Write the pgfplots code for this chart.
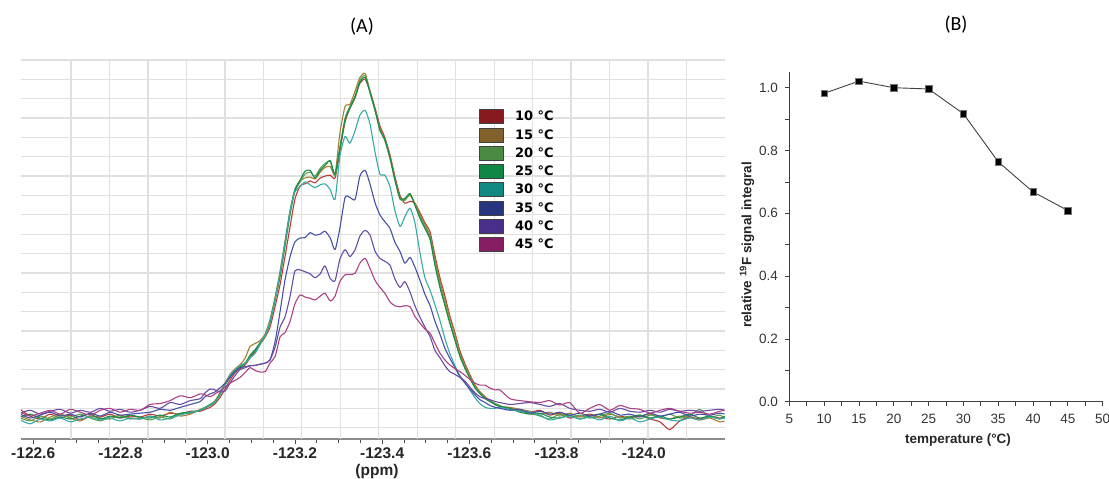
\documentclass[border=0pt]{standalone}
\usepackage{fontspec}
\setmainfont{Liberation Sans}
\newfontfamily\carlito{Carlito}
\newfontfamily\dejavu{DejaVu Sans}
\usepackage{pgfplots}
\usepackage{pgfplotstable}
\pgfplotsset{compat=1.18}

\definecolor{f10}{RGB}{135,26,31}
\definecolor{f15}{RGB}{129,98,42}
\definecolor{f20}{RGB}{74,138,66}
\definecolor{f25}{RGB}{17,135,69}
\definecolor{f30}{RGB}{17,136,130}
\definecolor{f35}{RGB}{38,53,126}
\definecolor{f40}{RGB}{72,47,138}
\definecolor{f45}{RGB}{135,30,99}
\definecolor{l10}{RGB}{185,60,60}
\definecolor{l15}{RGB}{165,125,55}
\definecolor{l20}{RGB}{90,160,80}
\definecolor{l25}{RGB}{25,140,70}
\definecolor{l30}{RGB}{55,170,165}
\definecolor{l35}{RGB}{70,80,165}
\definecolor{l40}{RGB}{105,75,165}
\definecolor{l45}{RGB}{170,65,130}
\definecolor{gridc}{RGB}{224,224,224}

\pgfplotsset{legbox/.style={legend image code/.code={\filldraw[fill=#1,draw=black!75,line width=0.8pt] (0pt,-7pt) rectangle (24pt,7pt);}}}

\pgfplotstableread{
ppm c10 c15 c20 c25 c30 c35 c40 c45
-122.570 0.95 0.6 0.5 0.55 0.4 0.7 0.75 0.8
-122.593 0.6 0.4 0.35 0.7 0.2 0.5 0.9 0.6
-122.616 0.45 0.3 0.6 0.5 0.45 0.65 0.7 0.75
-122.639 0.7 0.55 0.45 0.4 0.35 0.8 0.85 0.9
-122.662 0.5 0.7 0.65 0.55 0.5 0.6 0.95 0.7
-122.685 0.65 0.5 0.55 0.45 0.3 0.7 0.75 0.95
-122.708 0.4 0.35 0.7 0.6 0.45 0.55 0.9 0.8
-122.731 0.6 0.6 0.5 0.7 0.55 0.75 0.8 0.65
-122.754 0.55 0.5 0.35 0.45 0.4 0.6 1.0 0.9
-122.776 0.7 0.45 0.55 0.6 0.5 0.8 0.85 1.0
-122.799 0.5 0.65 0.6 0.5 0.35 0.65 0.95 0.8
-122.822 0.6 0.5 0.45 0.65 0.5 0.7 0.8 0.95
-122.845 0.55 0.45 0.5 0.55 0.45 0.75 0.9 0.9
-122.868 0.7 0.6 0.4 0.5 0.6 0.8 1.1 1.2
-122.891 0.6 0.5 0.55 0.65 0.4 0.95 1.0 1.25
-122.914 0.75 0.8 0.45 0.55 0.5 0.9 1.3 1.4
-122.937 0.7 0.6 0.7 0.75 0.65 1.05 1.2 1.65
-122.960 0.85 0.7 0.75 0.8 0.8 1.2 1.4 1.55
-122.983 0.85 0.95 0.9 0.9 0.9 1.35 1.5 1.75
-122.994 0.95 1.05 1.0 1.05 1.05 1.6 1.8 1.7
-123.006 1.05 1.2 1.15 1.2 1.2 1.75 2.0 1.6
-123.017 1.25 1.4 1.3 1.35 1.35 1.85 1.95 1.75
-123.028 1.55 1.8 1.7 1.75 1.7 2.05 1.85 1.9
-123.040 2.0 2.3 2.2 2.25 2.25 2.3 1.9 2.1
-123.051 2.45 2.75 2.6 2.65 2.7 2.6 2.3 2.3
-123.063 2.85 3.05 2.95 2.95 3.0 2.9 2.7 2.45
-123.074 3.05 3.25 3.1 3.15 3.2 3.1 3.0 2.6
-123.086 3.25 3.6 3.3 3.35 3.35 3.15 3.1 2.85
-123.097 3.6 4.2 3.75 3.7 3.6 3.2 3.2 3.1
-123.109 3.95 4.35 4.05 4.0 3.85 3.22 3.22 2.95
-123.120 4.3 4.5 4.4 4.35 4.3 3.28 3.28 2.88
-123.132 4.7 4.85 4.75 4.8 4.8 3.34 3.34 2.9
-123.143 5.2 5.6 5.4 5.5 5.5 3.5 3.5 3.34
-123.155 6.3 6.8 6.6 6.7 6.7 4.5 4.2 3.7
-123.166 7.4 8.1 7.8 7.9 8.0 6.0 5.2 4.7
-123.177 8.8 9.6 9.3 9.5 9.5 7.6 5.7 4.9
-123.189 10.4 11.2 11.0 11.2 11.2 8.84 6.8 5.5
-123.200 11.8 12.3 12.2 12.3 12.2 9.6 8.1 6.4
-123.212 12.5 12.75 12.7 12.8 12.45 9.8 8.15 6.86
-123.223 12.6 12.9 13.1 13.25 12.7 9.82 8.06 6.75
-123.235 12.75 12.95 13.2 13.3 12.55 10.08 7.95 6.69
-123.246 12.65 12.85 13.0 12.9 12.4 9.95 7.75 6.6
-123.258 12.9 13.2 13.4 13.3 12.55 10.0 7.95 6.8
-123.269 13.0 13.45 13.65 13.55 12.6 10.15 8.36 6.95
-123.281 13.05 13.5 13.75 13.8 12.3 9.8 7.7 6.55
-123.292 12.9 13.1 13.0 13.1 11.8 9.2 7.6 6.8
-123.303 14.3 15.2 14.5 14.4 14.0 10.3 8.7 7.55
-123.315 15.8 16.6 16.0 15.9 15.05 11.9 9.2 7.9
-123.326 16.5 16.7 16.6 16.5 14.7 11.9 8.84 7.92
-123.338 17.05 17.4 17.15 17.1 15.35 11.8 9.2 7.98
-123.349 17.8 18.1 17.95 17.85 16.15 13.0 9.9 8.5
-123.361 18.0 18.3 18.2 18.1 16.4 13.3 10.2 8.75
-123.372 17.4 17.4 17.3 17.35 15.7 12.6 9.96 8.24
-123.384 16.5 16.4 16.35 16.4 14.2 11.6 9.1 7.6
-123.395 15.6 15.5 15.4 15.35 13.1 11.0 8.75 7.25
-123.406 15.0 14.9 14.85 14.9 13.06 10.65 8.6 6.95
-123.418 14.1 14.0 13.9 13.95 12.45 10.3 8.4 6.5
-123.429 13.0 12.9 12.8 12.85 11.25 9.6 7.7 6.3
-123.441 12.0 11.9 11.8 11.85 10.4 9.1 7.25 6.25
-123.452 11.6 11.8 11.75 11.85 10.9 8.5 7.55 6.3
-123.464 11.7 12.0 12.05 12.1 11.34 8.8 7.0 6.25
-123.475 11.6 11.6 11.55 11.5 10.6 8.3 6.3 5.75
-123.487 11.1 11.0 10.9 10.8 9.0 7.6 5.7 5.4
-123.498 10.6 10.5 10.4 10.3 7.75 6.9 5.2 5.1
-123.510 10.1 9.9 9.8 9.7 7.1 6.3 4.7 4.88
-123.521 8.9 8.7 8.5 8.4 6.35 5.5 4.0 4.36
-123.533 7.7 7.5 7.3 7.2 5.5 4.8 3.6 3.84
-123.544 6.8 6.6 6.4 6.3 4.6 4.1 3.2 3.5
-123.555 5.8 5.7 5.5 5.4 3.84 3.6 2.9 3.25
-123.567 4.9 4.8 4.6 4.5 3.2 3.1 2.75 3.05
-123.578 4.0 3.9 3.75 3.7 2.7 2.65 2.6 2.9
-123.590 3.3 3.2 3.1 3.05 2.35 2.3 2.4 2.7
-123.601 2.75 2.7 2.6 2.55 1.95 2.0 2.1 2.5
-123.613 2.2 2.2 2.1 2.05 1.55 1.7 1.8 2.3
-123.624 1.85 1.85 1.8 1.75 1.25 1.45 1.6 2.2
-123.636 1.6 1.6 1.55 1.5 1.05 1.3 1.5 2.2
-123.647 1.4 1.4 1.4 1.35 1.0 1.15 1.45 2.05
-123.659 1.2 1.2 1.25 1.2 1.0 1.05 1.35 1.95
-123.670 1.1 1.1 1.15 1.1 1.05 1.0 1.3 1.95
-123.693 1.0 1.05 0.95 1.0 0.95 0.9 1.2 1.5
-123.716 0.9 0.95 0.85 0.8 0.85 0.95 1.25 1.4
-123.739 0.8 0.85 0.75 0.7 0.8 0.75 1.3 1.34
-123.762 0.9 0.7 0.6 0.75 0.65 0.85 1.2 1.3
-123.784 0.65 0.8 0.45 0.55 0.4 0.7 1.1 1.4
-123.807 0.75 0.6 0.7 0.5 0.5 0.8 1.25 1.17
-123.830 0.5 0.75 0.55 0.65 0.6 0.65 1.0 1.3
-123.853 0.6 0.55 0.65 0.45 0.45 0.75 0.9 0.74
-123.876 0.7 0.65 0.5 0.6 0.55 0.6 0.85 1.0
-123.899 0.55 0.5 0.6 0.7 0.4 0.7 0.95 1.2
-123.922 0.45 0.7 0.75 0.5 0.6 0.85 0.8 0.9
-123.945 0.6 0.55 0.5 0.4 0.35 0.65 1.0 1.15
-123.968 0.5 0.45 0.6 0.55 0.5 0.7 0.85 1.0
-123.991 0.65 0.6 0.45 0.65 0.3 0.55 0.8 0.95
-124.014 0.45 0.7 0.65 0.5 0.45 0.75 0.9 0.75
-124.037 0.3 0.5 0.55 0.6 0.55 0.6 0.8 0.9
-124.059 -0.1 0.45 0.7 0.45 0.4 0.7 0.95 1.0
-124.082 0.35 0.6 0.5 0.55 0.35 0.8 0.85 0.85
-124.105 0.55 0.55 0.6 0.7 0.5 0.6 0.9 0.75
-124.128 0.45 0.4 0.95 0.5 0.4 0.7 0.85 0.8
-124.151 0.6 0.5 0.55 0.6 0.55 0.65 0.9 0.7
-124.174 0.5 0.3 0.65 0.45 0.45 0.75 0.95 0.85
-124.185 0.55 0.35 0.5 0.6 0.5 0.7 0.9 0.9
}\spec

\pgfplotstableread{
t r
10 0.982
15 1.021
20 1.000
25 0.996
30 0.917
35 0.764
40 0.668
45 0.609
}\integ

\begin{document}
\begin{tikzpicture}[x=1pt,y=1pt]
\path[use as bounding box] (0,0) rectangle (1109,479);
\node[font=\carlito\fontsize{20}{24}\selectfont] at (362,452) {(A)};
\node[font=\carlito\fontsize{20}{24}\selectfont] at (956,454) {(B)};

\begin{axis}[
  at={(21pt,40pt)}, anchor=south west, scale only axis,
  width=704pt, height=379pt,
  x dir=reverse, xmin=-124.186, xmax=-122.572, ymin=-0.584, ymax=19,
  axis x line*=bottom, axis y line=none,
  x axis line style={-, draw=black!45, line width=1.3pt},
  xtick={-122.6,-122.8,-123.0,-123.2,-123.4,-123.6,-123.8,-124.0},
  xticklabels={-122.6,-122.8,-123.0,-123.2,-123.4,-123.6,-123.8,-124.0},
  minor x tick num=3,
  tick align=outside,
  major tick length=5pt, minor tick length=4pt,
  xtick style={draw=black!70, line width=0.8pt},
  xticklabel style={font=\bfseries\fontsize{15.5}{18}\selectfont, text=black!85},
  ytick=\empty,
  extra x ticks={-122.6866,-122.7748,-122.8630,-122.9512,-123.0394,-123.1276,-123.2158,-123.3040,-123.3922,-123.4804,-123.5686,-123.6568,-123.7450,-123.8332,-123.9214,-124.0096,-124.0978},
  extra x tick labels={},
  extra x tick style={grid=major, major tick length=0pt, tick style={draw=none}},
  grid style={draw=gridc, line width=1.3pt},
  no marks,
  every axis plot/.append style={line width=1.1pt, smooth, tension=0.4, line join=round},
  legend style={at={(0.6506,0.8707)}, anchor=north west, draw=none, fill=none,
    inner sep=0pt, row sep=3.5pt,
    font=\dejavu\bfseries\fontsize{13}{15}\selectfont,
    nodes={inner sep=0pt, anchor=west},
    /tikz/every odd column/.append style={column sep=11pt}},
  legend cell align=left,
]
\pgfplotsinvokeforeach{0,1,...,19}{\draw[draw=gridc, line width=1.3pt, line cap=butt] (rel axis cs:0,0) ++(0pt,0pt) (axis cs:-122.5725,#1) -- (axis cs:-124.1855,#1);}
\addplot[l10, legbox=f10] table[x=ppm, y=c10] {\spec};
\addlegendentry{10 °C}
\addplot[l15, legbox=f15] table[x=ppm, y=c15] {\spec};
\addlegendentry{15 °C}
\addplot[l20, legbox=f20] table[x=ppm, y=c20] {\spec};
\addlegendentry{20 °C}
\addplot[l25, legbox=f25] table[x=ppm, y=c25] {\spec};
\addlegendentry{25 °C}
\addplot[l30, legbox=f30] table[x=ppm, y=c30] {\spec};
\addlegendentry{30 °C}
\addplot[l35, legbox=f35] table[x=ppm, y=c35] {\spec};
\addlegendentry{35 °C}
\addplot[l40, legbox=f40] table[x=ppm, y=c40] {\spec};
\addlegendentry{40 °C}
\addplot[l45, legbox=f45] table[x=ppm, y=c45] {\spec};
\addlegendentry{45 °C}
\end{axis}
\node[font=\bfseries\fontsize{15.5}{18}\selectfont, text=black!85] at (377,8) {(ppm)};

\begin{axis}[
  at={(789.3pt,77.3pt)}, anchor=south west, scale only axis,
  width=313.4pt, height=330pt,
  xmin=5, xmax=50, ymin=0, ymax=1.051,
  axis lines=left,
  axis line style={-, draw=black!75, line width=0.9pt},
  xtick={5,10,...,50}, minor x tick num=1,
  ytick={0,0.2,0.4,0.6,0.8,1.0}, minor y tick num=1,
  tick align=outside, major tick length=4pt, minor tick length=4pt,
  tick style={draw=black!75, line width=0.8pt},
  /pgf/number format/assume math mode=true,
  ticklabel style={font=\fontsize{13.5}{15}\selectfont, text=black!80},
  xticklabel style={yshift=-5pt},
  yticklabel style={xshift=-4pt, /pgf/number format/fixed, /pgf/number format/fixed zerofill, /pgf/number format/precision=1},
]
\addplot[draw=black!75, line width=0.9pt, mark=square*, mark size=3.3pt,
  mark options={fill=black, draw=black!55, line width=0.5pt}] table[x=t, y=r] {\integ};
\end{axis}
\node[font=\bfseries\fontsize{13.5}{16}\selectfont, text=black!85] at (958,39) {temperature (°C)};
\node[rotate=90, font=\bfseries\fontsize{13.5}{16}\selectfont, text=black!85] at (747,234) {relative \textsuperscript{19}F signal integral};
\end{tikzpicture}
\end{document}
